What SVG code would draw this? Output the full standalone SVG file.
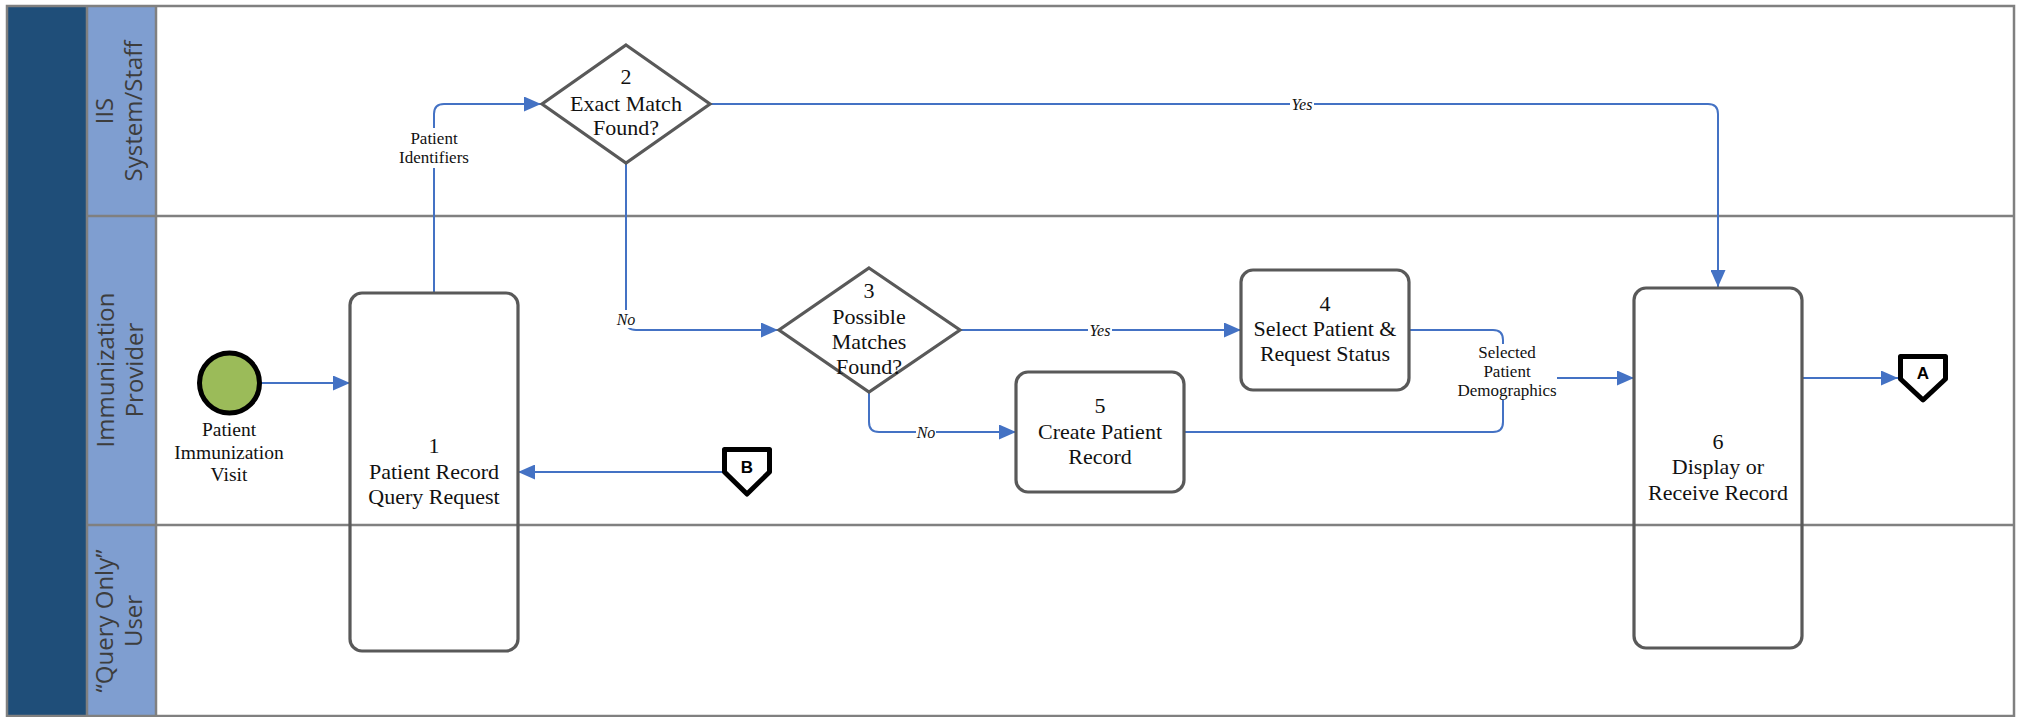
<svg xmlns="http://www.w3.org/2000/svg" width="2017" height="717" viewBox="0 0 2017 717">
<style>
.lane-t{font-family:"Open Sans","DejaVu Sans",sans-serif;font-size:24px;fill:#3d3d3d;text-anchor:middle}
.grid{stroke:#808080;stroke-width:2.5;fill:none}
.box{fill:none;stroke:#595959;stroke-width:3.2}
.nt{font-family:"Liberation Serif","Times New Roman",serif;font-size:22px;fill:#111;text-anchor:middle}
.lt{font-family:"Liberation Serif","Times New Roman",serif;font-size:17px;fill:#111;text-anchor:middle}
.it{font-family:"Liberation Serif","Times New Roman",serif;font-size:16px;font-style:italic;fill:#111;text-anchor:middle}
.cn{fill:none;stroke:#4472C4;stroke-width:2}
.arr{marker-end:url(#ah)}
.bg{fill:#fff}
.off{fill:#fff;stroke:#000;stroke-width:5;stroke-linejoin:round}
.ot{font-family:"Liberation Sans",Arial,sans-serif;font-weight:bold;font-size:17px;fill:#000;text-anchor:middle}
</style>
<defs>
<marker id="ah" markerUnits="userSpaceOnUse" markerWidth="17" markerHeight="15" refX="17" refY="7.5" orient="auto">
<path d="M0,0 L17,7.5 L0,15 z" fill="#4472C4"/>
</marker>
</defs>
<rect width="2017" height="717" fill="#fff"/>
<g id="pool">
<rect x="7" y="6" width="80" height="710" fill="#1F4E79"/>
<rect x="87" y="6" width="69" height="710" fill="#7F9ED0"/>
<rect class="grid" x="7" y="6" width="2007" height="710"/>
<line class="grid" x1="87" y1="6" x2="87" y2="716"/>
<line class="grid" x1="156" y1="6" x2="156" y2="716"/>
<line class="grid" x1="87" y1="216" x2="2014" y2="216"/>
<line class="grid" x1="87" y1="525" x2="2014" y2="525"/>
</g>
<g id="lane-iis">
<text class="lane-t" transform="translate(113,111) rotate(-90)"><tspan x="0" y="0">IIS</tspan><tspan x="0" dy="29">System/Staff</tspan></text>
</g>
<g id="lane-provider">
<text class="lane-t" transform="translate(114,370) rotate(-90)"><tspan x="0" y="0">Immunization</tspan><tspan x="0" dy="29">Provider</tspan></text>
</g>
<g id="lane-query">
<text class="lane-t" transform="translate(113,621) rotate(-90)"><tspan x="0" y="0">“Query Only”</tspan><tspan x="0" dy="29">User</tspan></text>
</g>
<g id="connectors">
<path class="cn arr" d="M261,383 H350"/>
<path class="cn arr" d="M434,293 V114 Q434,104 444,104 H541"/>
<path class="cn arr" d="M710,104 H1708 Q1718,104 1718,114 V287"/>
<path class="cn arr" d="M626,163 V320 Q626,330 636,330 H778"/>
<path class="cn arr" d="M960,330 H1241"/>
<path class="cn arr" d="M869,392 V422 Q869,432 879,432 H1016"/>
<path class="cn" d="M1409,330 H1493 Q1503,330 1503,340 V346"/>
<path class="cn" d="M1184,432 H1493 Q1503,432 1503,422 V400"/>
<path class="cn arr" d="M1557,378 H1634"/>
<path class="cn arr" d="M1802,378 H1898"/>
<path class="cn arr" d="M723,472 H518"/>
<rect class="bg" x="396" y="128" width="76" height="40"/>
<text class="lt" x="434" y="144">Patient</text>
<text class="lt" x="434" y="163">Identifiers</text>
<rect class="bg" x="1290" y="96" width="24" height="16"/>
<text class="it" x="1302" y="109.5">Yes</text>
<rect class="bg" x="616" y="310" width="20" height="18"/>
<text class="it" x="626" y="324.5">No</text>
<rect class="bg" x="1088" y="322" width="24" height="16"/>
<text class="it" x="1100" y="335.5">Yes</text>
<rect class="bg" x="916" y="424" width="20" height="16"/>
<text class="it" x="926" y="437.5">No</text>
<rect class="bg" x="1456" y="344" width="101" height="56"/>
<text class="lt" x="1507" y="358">Selected</text>
<text class="lt" x="1507" y="377">Patient</text>
<text class="lt" x="1507" y="396">Demographics</text>
</g>
<g id="start">
<circle cx="229.5" cy="383" r="30" fill="#9BBB59" stroke="#000" stroke-width="5"/>
<text class="nt" style="font-size:19.5px" x="229" y="436">Patient</text>
<text class="nt" style="font-size:19.5px" x="229" y="459">Immunization</text>
<text class="nt" style="font-size:19.5px" x="229" y="481">Visit</text>
</g>
<g id="node1">
<rect class="box" x="350" y="293" width="168" height="358" rx="12"/>
<text class="nt" x="434" y="453">1</text>
<text class="nt" x="434" y="479">Patient Record</text>
<text class="nt" x="434" y="504">Query Request</text>
</g>
<g id="node2">
<polygon class="box" points="626,45 710,104 626,163 542,104"/>
<text class="nt" x="626" y="84">2</text>
<text class="nt" x="626" y="111">Exact Match</text>
<text class="nt" x="626" y="135">Found?</text>
</g>
<g id="node3">
<polygon class="box" points="869,268 960,330 869,392 779,330"/>
<text class="nt" x="869" y="298">3</text>
<text class="nt" x="869" y="324">Possible</text>
<text class="nt" x="869" y="349">Matches</text>
<text class="nt" x="869" y="374">Found?</text>
</g>
<g id="node4">
<rect class="box" x="1241" y="270" width="168" height="120" rx="12"/>
<text class="nt" x="1325" y="311">4</text>
<text class="nt" x="1325" y="336">Select Patient &amp;</text>
<text class="nt" x="1325" y="361">Request Status</text>
</g>
<g id="node5">
<rect class="box" x="1016" y="372" width="168" height="120" rx="12"/>
<text class="nt" x="1100" y="413">5</text>
<text class="nt" x="1100" y="439">Create Patient</text>
<text class="nt" x="1100" y="464">Record</text>
</g>
<g id="node6">
<rect class="box" x="1634" y="288" width="168" height="360" rx="12"/>
<text class="nt" x="1718" y="449">6</text>
<text class="nt" x="1718" y="474">Display or</text>
<text class="nt" x="1718" y="500">Receive Record</text>
</g>
<g id="offpage-A">
<path class="off" d="M1900.5,356.5 H1945.5 V379 L1923,400 L1900.5,379 Z"/>
<text class="ot" x="1923" y="379">A</text>
</g>
<g id="offpage-B">
<path class="off" d="M724.5,449.5 H769.5 V472 L747,494 L724.5,472 Z"/>
<text class="ot" x="747" y="472.5">B</text>
</g>
</svg>
